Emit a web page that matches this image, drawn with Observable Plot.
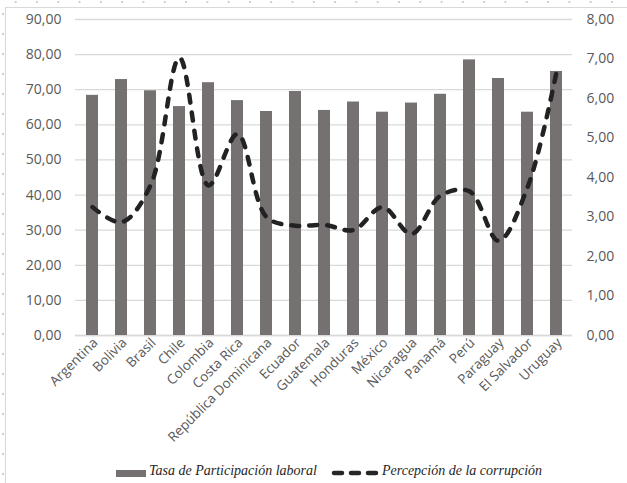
<!DOCTYPE html>
<html>
<head>
<meta charset="utf-8">
<script src="https://cdn.jsdelivr.net/npm/d3@7"></script>
<script src="https://cdn.jsdelivr.net/npm/@observablehq/plot@0.6"></script>
<style>
  html, body { margin: 0; padding: 0; background: #fff; }
  #wrap { position: relative; width: 627px; height: 483px; overflow: hidden; }
  #dotsTop { position: absolute; left: 0; top: 1px; width: 627px; height: 2px;
             background-image: radial-gradient(circle, #cfcfcf 0.8px, transparent 1px);
             background-size: 21.3px 2px; background-position: 5px 0; }
  #dotsLeft { position: absolute; left: 2px; top: 0; width: 2px; height: 483px;
              background-image: radial-gradient(circle, #cfcfcf 0.8px, transparent 1px);
              background-size: 2px 20px; background-position: 0 4px; }
  #frame { position: absolute; left: 5px; top: 7px; width: 640px; height: 490px;
           border-top: 1px solid #d9d9d9; border-left: 1px solid #d9d9d9; }
  #chart { position: absolute; left: 0; top: 0; }
  #legend { position: absolute; left: 0; top: 457px; width: 627px; height: 22px;
            font-family: "Liberation Serif", serif; font-style: italic; font-size: 14px; color: #262626; }
  #legend .sw { position: absolute; left: 116px; top: 13px; width: 30px; height: 7px; background: #767171; }
  #legend .t1 { position: absolute; left: 149px; top: 6px; white-space: nowrap; }
  #legend svg { position: absolute; left: 331px; top: 10px; }
  #legend .t2 { position: absolute; left: 382px; top: 6px; white-space: nowrap; }
</style>
</head>
<body>
<div id="wrap">
  <div id="dotsTop"></div>
  <div id="dotsLeft"></div>
  <div id="frame"></div>
  <div id="chart"></div>
  <div id="legend">
    <div class="sw"></div>
    <div class="t1">Tasa de Participación laboral</div>
    <svg width="50" height="12"><line x1="3" y1="6" x2="47" y2="6" stroke="#262626" stroke-width="4.5" stroke-dasharray="8,9" stroke-linecap="round"/></svg>
    <div class="t2">Percepción de la corrupción</div>
  </div>
</div>
<script>
const countries = ["Argentina","Bolivia","Brasil","Chile","Colombia","Costa Rica","República Dominicana","Ecuador","Guatemala","Honduras","México","Nicaragua","Panamá","Perú","Paraguay","El Salvador","Uruguay"];
const participacion = [68.4, 72.9, 69.7, 65.2, 72.0, 66.9, 63.8, 69.5, 64.1, 66.5, 63.6, 66.2, 68.7, 78.5, 73.2, 63.6, 75.2];
const corrupcion = [3.25, 2.87, 3.8, 7.03, 3.8, 5.1, 3.0, 2.78, 2.8, 2.67, 3.25, 2.57, 3.54, 3.65, 2.4, 3.75, 6.67];
const leftTicks = [0,10,20,30,40,50,60,70,80,90];
const rightTicks = [0,1,2,3,4,5,6,7,8];

const ratio = 90 / 8;
const fmt = v => v.toFixed(2).replace(".", ",");
const bars = countries.map((c, i) => ({country: c, value: participacion[i]}));
const line = countries.map((c, i) => ({country: c, value: corrupcion[i] * ratio}));

const chart = Plot.plot({
  width: 627,
  height: 455,
  marginLeft: 75,
  marginRight: 55,
  marginTop: 19,
  marginBottom: 120,
  style: {fontFamily: "'Open Sans', sans-serif", fontSize: "14px", color: "#595959", background: "transparent"},
  x: {domain: countries, paddingInner: 0.59, paddingOuter: 0.295, align: 0.5, label: null},
  y: {domain: [0, 90], label: null},
  marks: [
    Plot.gridY(leftTicks, {stroke: "#d9d9d9", strokeOpacity: 1, strokeWidth: 1.3}),
    Plot.ruleY([0], {stroke: "#d9d9d9", strokeWidth: 1.3}),
    Plot.barY(bars, {x: "country", y: "value", fill: "#767171"}),
    Plot.line(line, {x: "country", y: "value", stroke: "#222", strokeWidth: 4.5,
      strokeDasharray: "8,10", strokeLinecap: "round", curve: "catmull-rom"}),
    Plot.axisY(leftTicks, {anchor: "left", tickSize: 0, tickPadding: 14, tickFormat: fmt, fill: "#595959", fontSize: 14, label: null}),
    Plot.axisY(rightTicks.map(d => d * ratio), {anchor: "right", tickSize: 0, tickPadding: 14,
      tickFormat: d => fmt(d / ratio), fill: "#595959", fontSize: 14, label: null}),
    Plot.axisX({tickSize: 0, tickPadding: 5, tickRotate: -45, fill: "#595959", fontSize: 13.5, label: null, dx: 3})
  ]
});
document.getElementById("chart").appendChild(chart);
</script>
</body>
</html>
